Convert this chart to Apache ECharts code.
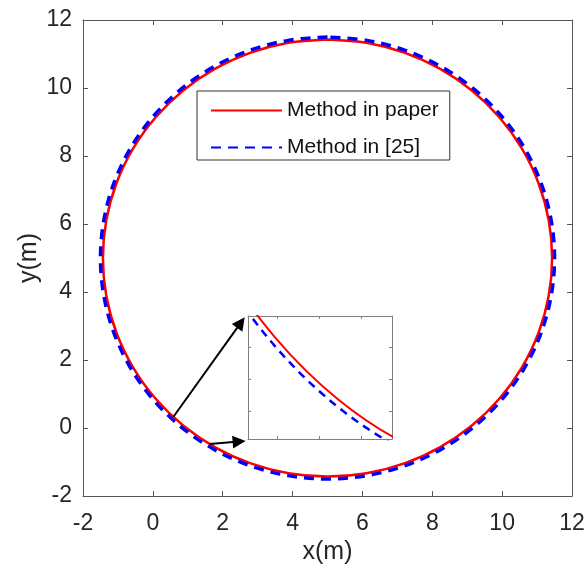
<!DOCTYPE html>
<html>
<head>
<meta charset="utf-8">
<script src="https://cdn.jsdelivr.net/npm/echarts@6/dist/echarts.min.js"></script>
<style>
  html, body { margin: 0; padding: 0; background: #fff; }
  #chart { width: 585px; height: 570px; }
</style>
</head>
<body>
<div id="chart"></div>
<script>
// series names
const seriesNames = ['Method in paper', 'Method in [25]'];

// trajectory, [x, y] in metres
const paperPath = [
  [5, 11.43], [3.884, 11.332], [2.801, 11.042], [1.785, 10.568], [0.867, 9.925], [0.075, 9.133],
  [-0.568, 8.215], [-1.042, 7.199], [-1.332, 6.116], [-1.43, 5], [-1.332, 3.884], [-1.042, 2.801],
  [-0.568, 1.785], [0.075, 0.867], [0.867, 0.075], [1.785, -0.568], [2.801, -1.042], [3.884, -1.332],
  [5, -1.43], [6.116, -1.332], [7.199, -1.042], [8.215, -0.568], [9.133, 0.075], [9.925, 0.867],
  [10.568, 1.785], [11.042, 2.801], [11.332, 3.884], [11.43, 5], [11.332, 6.116], [11.042, 7.199],
  [10.568, 8.215], [9.925, 9.133], [9.133, 9.925], [8.215, 10.568], [7.199, 11.042], [6.116, 11.332],
  [5, 11.43]
];
const refPath = [
  [5, 11.5], [3.872, 11.401], [2.777, 11.108], [1.75, 10.629], [0.822, 9.979], [0.021, 9.178],
  [-0.629, 8.25], [-1.108, 7.223], [-1.401, 6.128], [-1.5, 5], [-1.401, 3.872], [-1.108, 2.777],
  [-0.629, 1.75], [0.021, 0.822], [0.822, 0.021], [1.75, -0.629], [2.777, -1.108], [3.872, -1.401],
  [5, -1.5], [6.128, -1.401], [7.223, -1.108], [8.25, -0.629], [9.178, 0.021], [9.979, 0.822],
  [10.629, 1.75], [11.108, 2.777], [11.401, 3.872], [11.5, 5], [11.401, 6.128], [11.108, 7.223],
  [10.629, 8.25], [9.979, 9.178], [9.178, 9.979], [8.25, 10.629], [7.223, 11.108], [6.128, 11.401],
  [5, 11.5]
];

// axes
const axisRange = [-2, 12];
const tickStep = 2;

// zoomed window shown in the inset
const zoomX = [0.47, 2.57];
const zoomY = [-0.98, 0.30];

// arrows from the curve to the inset
const arrowFrom = [[0.59, 0.33], [1.62, -0.47]];
const arrowTo = [[2.52, 3.10], [2.47, -0.40]];

const font = '"Liberation Sans", Arial, sans-serif';
const textColor = '#262626';
const axisColor = '#555';

const chart = echarts.init(document.getElementById('chart'));

function mainAxis(position, labels, margin) {
  return {
    type: 'value',
    gridIndex: 0,
    position: position,
    min: axisRange[0],
    max: axisRange[1],
    interval: tickStep,
    axisLine: { show: true, onZero: false, lineStyle: { color: axisColor, width: 1 } },
    axisTick: { show: true, inside: true, length: 5, lineStyle: { color: axisColor, width: 1 } },
    axisLabel: { show: labels, fontSize: 23, color: textColor, fontFamily: font, margin: margin },
    splitLine: { show: false }
  };
}

function insetTickAxis(position, min, max) {
  return {
    type: 'value',
    gridIndex: 1,
    position: position,
    min: min,
    max: max,
    splitNumber: 3,
    axisLine: { show: true, onZero: false, lineStyle: { color: '#808080', width: 1 } },
    axisTick: { show: true, inside: true, length: 3, lineStyle: { color: '#808080', width: 1 } },
    axisLabel: { show: false },
    splitLine: { show: false }
  };
}

function insetDataAxis(position, range) {
  return {
    type: 'value',
    gridIndex: 1,
    position: position,
    min: range[0],
    max: range[1],
    axisLine: { show: false, onZero: false },
    axisTick: { show: false },
    axisLabel: { show: false },
    splitLine: { show: false }
  };
}

const option = {
  animation: false,
  backgroundColor: '#fff',
  grid: [
    { left: 83, right: 13, top: 20, bottom: 74, outerBoundsMode: 'none' },
    { left: 248, top: 316, width: 144, height: 123, outerBoundsMode: 'none', show: true, borderWidth: 0, backgroundColor: '#fff' }
  ],
  legend: {
    data: seriesNames,
    orient: 'vertical',
    left: 197,
    top: 91,
    itemWidth: 71,
    itemHeight: 20,
    itemGap: 16,
    padding: [9, 11, 2, 13],
    borderColor: '#333',
    borderWidth: 1,
    backgroundColor: '#fff',
    selectedMode: false,
    itemStyle: { opacity: 0 },
    textStyle: { fontSize: 21, color: '#111', fontFamily: font }
  },
  xAxis: [
    Object.assign(mainAxis('bottom', true, 16), {
      name: 'x(m)', nameLocation: 'middle', nameGap: 44, nameMoveOverlap: false,
      nameTextStyle: { fontSize: 25, color: textColor, fontFamily: font }
    }),
    mainAxis('top', false, 16),
    insetDataAxis('bottom', zoomX),
    insetTickAxis('bottom', -0.687, 2.725),
    insetTickAxis('top', -0.687, 2.725)
  ],
  yAxis: [
    Object.assign(mainAxis('left', true, 11), {
      name: 'y(m)', nameLocation: 'middle', nameGap: 41, nameMoveOverlap: false,
      nameTextStyle: { fontSize: 25, color: textColor, fontFamily: font }
    }),
    mainAxis('right', false, 11),
    insetDataAxis('left', zoomY),
    insetTickAxis('left', -0.86, 2.99),
    insetTickAxis('right', -0.86, 2.99)
  ],
  series: [
    {
      name: seriesNames[0],
      type: 'line',
      xAxisIndex: 0, yAxisIndex: 0,
      data: paperPath,
      symbol: 'none',
      smooth: 0.335,
      lineStyle: { color: '#ff0000', width: 2.5 },
      itemStyle: { color: '#ff0000' },
      z: 3,
      markLine: {
        silent: true,
        animation: false,
        symbol: ['none', 'triangle'],
        symbolSize: 13,
        label: { show: false },
        lineStyle: { color: '#000', width: 2, type: 'solid' },
        itemStyle: { color: '#000' },
        emphasis: { disabled: true },
        data: arrowFrom.map((p, i) => [{ coord: p }, { coord: arrowTo[i] }])
      }
    },
    {
      name: seriesNames[1],
      type: 'line',
      xAxisIndex: 0, yAxisIndex: 0,
      data: refPath,
      symbol: 'none',
      smooth: 0.335,
      lineStyle: { color: '#0000ff', width: 3.5, type: [10, 7] },
      itemStyle: { color: '#0000ff' },
      z: 3
    },
    {
      name: seriesNames[0],
      type: 'line',
      xAxisIndex: 2, yAxisIndex: 2,
      data: paperPath,
      symbol: 'none',
      smooth: 0.335,
      lineStyle: { color: '#ff0000', width: 2 },
      z: 6
    },
    {
      name: seriesNames[1],
      type: 'line',
      xAxisIndex: 2, yAxisIndex: 2,
      data: refPath,
      symbol: 'none',
      smooth: 0.335,
      lineStyle: { color: '#0000ff', width: 2.5, type: [8, 6] },
      z: 6
    }
  ]
};

chart.setOption(option);
</script>
</body>
</html>
